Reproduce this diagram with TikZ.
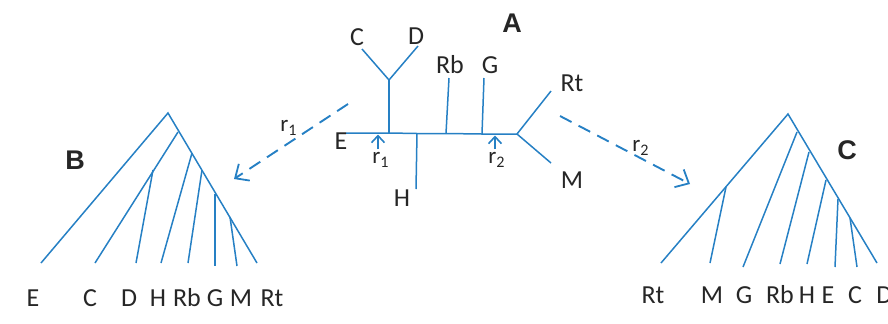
\documentclass[tikz,border=0pt]{standalone}
\usepackage{fontspec}
\setmainfont{Carlito}
\newfontfamily\headfont{Liberation Sans}
\usetikzlibrary{arrows.meta}
\definecolor{treeblue}{RGB}{38,128,196}
\begin{document}
\begin{tikzpicture}[x=0.5pt,y=-0.5pt,
  edge/.style={draw=treeblue,line width=0.75pt},
  thick edge/.style={draw=treeblue,line width=1.2pt},
  leaf/.style={font=\fontsize{13}{15}\selectfont,text=black!85,inner sep=0pt},
  panel/.style={font=\headfont\bfseries\fontsize{13.5}{15}\selectfont,text=black!85,inner sep=0pt},
  rlabel/.style={font=\fontsize{11.5}{13}\selectfont,text=black!85,inner sep=0pt},
  rotarrow/.style={draw=treeblue,line width=0.95pt,dash pattern=on 6.5pt off 4pt,
    -{Straight Barb[length=5.5pt,width=10pt,line width=0.9pt]}},
  cutarrow/.style={draw=treeblue,line width=0.8pt,
    -{Straight Barb[length=3.5pt,width=6.5pt,line width=0.8pt]}}]
\useasboundingbox (0,0) rectangle (888,323);

% ---------- unrooted tree A ----------
\coordinate (aE) at (346,133);
\coordinate (aCD) at (389,133);
\coordinate (aH) at (417,133.5);
\coordinate (aRb) at (446,133.5);
\coordinate (aG) at (482,134);
\coordinate (aJ) at (517,134);
\coordinate (aY) at (389,80);
\coordinate (aCt) at (362,49);
\coordinate (aDt) at (418,46);
\coordinate (aHt) at (416,189);
\coordinate (aRbt) at (449,78);
\coordinate (aGt) at (484,78);
\coordinate (aRtt) at (551,91);
\coordinate (aMt) at (551,163);

\draw[edge] (aE) -- (aCD) -- (aH) -- (aRb) -- (aG) -- (aJ);
\draw[thick edge] (aCD) -- (aY);
\draw[edge] (aCt) -- (aY) -- (aDt);
\draw[edge] (aH) -- (aHt);
\draw[edge] (aRb) -- (aRbt);
\draw[edge] (aG) -- (aGt);
\draw[edge] (aJ) -- (aRtt);
\draw[edge] (aJ) -- (aMt);

\node[leaf] (lAC) at (357,37) {C};
\node[leaf] (lAD) at (416,36) {D};
\node[leaf] (lARb) at (450,65) {Rb};
\node[leaf] (lAG) at (490,65) {G};
\node[leaf] (lARt) at (572,83) {Rt};
\node[leaf] (lAM) at (572,180) {M};
\node[leaf] (lAE) at (341,141) {E};
\node[leaf] (lAH) at (402,198) {H};
\node[panel] (pA) at (512,23) {A};

% root positions r1 and r2 on tree A
\coordinate (r1base) at (378,149);
\coordinate (r1tip) at (378,134.5);
\coordinate (r2base) at (495,149);
\coordinate (r2tip) at (495,135.5);
\draw[cutarrow] (r1base) -- (r1tip);
\draw[cutarrow] (r2base) -- (r2tip);
\node[rlabel] (lr1) at (381,160) {r\textsubscript{1}};
\node[rlabel] (lr2) at (497,160) {r\textsubscript{2}};

% ---------- rooting arrows ----------
\coordinate (d1s) at (348,104);
\coordinate (d1e) at (234,179);
\coordinate (d2s) at (560,116);
\coordinate (d2e) at (690,184);
\draw[rotarrow] (d1s) -- (d1e);
\draw[rotarrow] (d2s) -- (d2e);
\node[rlabel] (lrd1) at (289,128) {r\textsubscript{1}};
\node[rlabel] (lrd2) at (641,148) {r\textsubscript{2}};

% ---------- rooted tree B (root r1) ----------
\coordinate (bR) at (168,113);
\coordinate (bE) at (41,263);
\coordinate (bRt) at (257,263);
\coordinate (b1) at (178,132);
\coordinate (bC) at (95,263);
\coordinate (b2) at (153,170);
\coordinate (bD) at (136,263);
\coordinate (b3) at (192,153);
\coordinate (bH) at (161,263);
\coordinate (b4) at (202,170);
\coordinate (bRb) at (188,263);
\coordinate (b5) at (215,194);
\coordinate (bG) at (215,266);
\coordinate (b6) at (230,217);
\coordinate (bM) at (237,266);

\draw[edge] (bE) -- (bR) -- (bRt);
\draw[edge] (b1) -- (bC);
\draw[edge] (b2) -- (bD);
\draw[edge] (b3) -- (bH);
\draw[edge] (b4) -- (bRb);
\draw[thick edge] (b5) -- (bG);
\draw[edge] (b6) -- (bM);

\foreach \t/\x in {E/33,C/90,D/129,H/158,Rb/187,G/215,M/241,Rt/272}
  \node[leaf] (lB\t) at (\x,298) {\t};
\node[panel] (pB) at (75,160) {B};

% ---------- rooted tree C (root r2) ----------
\coordinate (cR) at (788,114);
\coordinate (cRt) at (661,263);
\coordinate (cD) at (877,263);
\coordinate (c1) at (726,187);
\coordinate (cM) at (710,263);
\coordinate (c2) at (797,132);
\coordinate (cG) at (743,267);
\coordinate (c3) at (809,152);
\coordinate (cRb) at (780,264);
\coordinate (c4) at (826,180);
\coordinate (cH) at (807,264);
\coordinate (c5) at (838,199);
\coordinate (cE) at (835,267);
\coordinate (c6) at (850,218);
\coordinate (cC) at (857,267);

\draw[edge] (cRt) -- (cR) -- (cD);
\draw[edge] (c1) -- (cM);
\draw[edge] (c2) -- (cG);
\draw[edge] (c3) -- (cRb);
\draw[edge] (c4) -- (cH);
\draw[edge] (c5) -- (cE);
\draw[edge] (c6) -- (cC);

\foreach \t/\x in {Rt/653,M/712,G/744,Rb/780,H/807,E/828,C/855}
  \node[leaf] (lC\t) at (\x,295) {\t};
% the last leaf label runs into the right edge
\node[leaf,anchor=west] (lCD) at (876,295) {D};
\node[panel] (pC) at (847,150) {C};
\end{tikzpicture}
\end{document}
